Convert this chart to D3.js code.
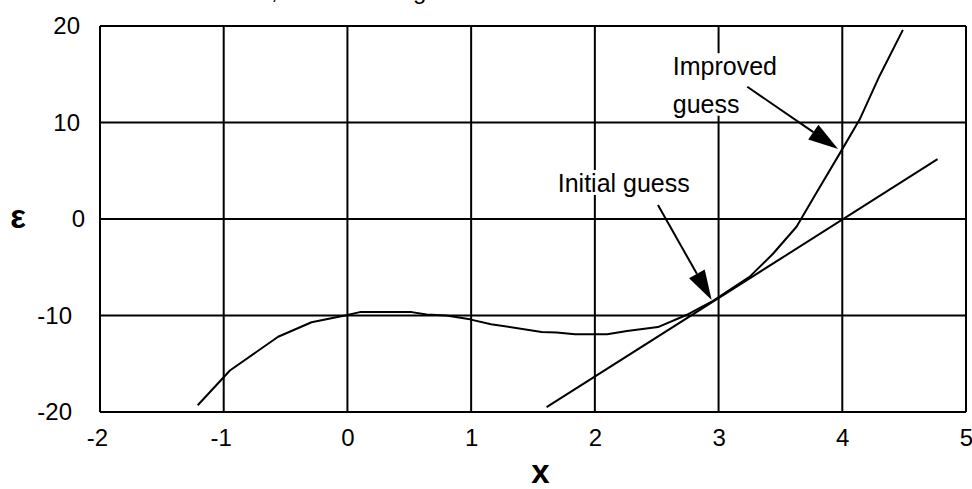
<!DOCTYPE html>
<html><head><meta charset="utf-8">
<script src="https://cdn.jsdelivr.net/npm/d3@7"></script>
<style>
html,body{margin:0;padding:0;background:#fff;}
svg{display:block;}
text{font-family:"Liberation Sans",Arial,sans-serif;}
</style></head>
<body>
<svg id="c" width="972" height="489"></svg>
<script>
// ---- data ----
const xTicks = [-2, -1, 0, 1, 2, 3, 4, 5];
const yTicks = [-20, -10, 0, 10, 20];
const curveX = [-1.21, -0.95, -0.56, -0.29, 0.0, 0.10, 0.52, 0.64, 0.80, 0.99, 1.16, 1.57, 1.69, 1.84, 2.10, 2.26, 2.51, 2.74, 2.94, 3.25, 3.44, 3.63, 3.79, 3.98, 4.14, 4.30, 4.49];
const curveY = [-19.3, -15.7, -12.2, -10.7, -9.95, -9.65, -9.65, -9.9, -10.0, -10.4, -10.9, -11.7, -11.75, -11.95, -11.95, -11.6, -11.2, -9.95, -8.6, -6.0, -3.6, -0.8, 2.7, 6.8, 10.3, 14.8, 19.6];
const tangentX = [1.61, 4.77];
const tangentY = [-19.5, 6.2];
const annotations = [
  {lines: ["Initial guess"], tx: 1.7, ty: 2.8, fromX: 2.51, fromY: 1.45, toX: 2.944, toY: -8.39},
  {lines: ["Improved", "guess"], tx: 2.63, ty: 14.9, fromX: 3.232, fromY: 13.7, toX: 3.966, toY: 7.25}
];
const xLabel = "x";
const yLabel = "\u03b5";

// ---- layout ----
const svg = d3.select("#c");
const m = {left: 100, top: 26, right: 6, bottom: 77};
const W = 972 - m.left - m.right, H = 489 - m.top - m.bottom;
const x = d3.scaleLinear().domain([-2, 5]).range([m.left, m.left + W]);
const y = d3.scaleLinear().domain([-20, 20]).range([m.top + H, m.top]);
const fmt = d => String(d);

// grid
const g = svg.append("g");
g.selectAll(".vg").data(xTicks).join("line")
  .attr("x1", d => x(d)).attr("x2", d => x(d))
  .attr("y1", y(20)).attr("y2", y(-20))
  .attr("stroke", "#000").attr("stroke-width", 2);
g.selectAll(".hg").data(yTicks).join("line")
  .attr("y1", d => y(d)).attr("y2", d => y(d))
  .attr("x1", x(-2)).attr("x2", x(5))
  .attr("stroke", "#000").attr("stroke-width", 2);

// axes labels via d3 axes (no domain/ticks lines)
const xAxis = svg.append("g").attr("transform", `translate(0,${y(-20)})`)
  .call(d3.axisBottom(x).tickValues(xTicks).tickSize(0).tickPadding(0).tickFormat(fmt));
xAxis.select(".domain").remove();
xAxis.selectAll("text").attr("font-size", 24).attr("fill", "#000")
  .attr("font-family", "Liberation Sans, Arial, sans-serif")
  .attr("dy", null).attr("y", 34)
  .attr("dx", d => d < 0 ? -3 : 0);

const yAxis = svg.append("g")
  .call(d3.axisLeft(y).tickValues(yTicks).tickSize(0).tickPadding(0).tickFormat(fmt));
yAxis.select(".domain").remove();
yAxis.selectAll("text").attr("font-size", 24).attr("fill", "#000")
  .attr("font-family", "Liberation Sans, Arial, sans-serif")
  .attr("text-anchor", "end")
  .attr("x", d => { const s = String(Math.abs(d)); return 90 - 5 * s.length - (d < 0 ? 8 : 0); })
  .attr("dy", "0.33em");

// axis titles
svg.append("text").attr("x", x(1.56)).attr("y", 483).attr("text-anchor", "middle")
  .attr("font-size", 33).attr("font-weight", "bold").text(xLabel);
svg.append("text").attr("x", 18).attr("y", 228).attr("text-anchor", "middle")
  .attr("font-size", 33).attr("font-weight", "bold").text(yLabel);

// curve and tangent
const line = d3.line().x(d => x(d[0])).y(d => y(d[1]));
svg.append("path").datum(curveX.map((v, i) => [v, curveY[i]]))
  .attr("d", line).attr("fill", "none").attr("stroke", "#000").attr("stroke-width", 2)
  .attr("stroke-linejoin", "round");
svg.append("path").datum(tangentX.map((v, i) => [v, tangentY[i]]))
  .attr("d", line).attr("fill", "none").attr("stroke", "#000").attr("stroke-width", 2);

// annotations
annotations.forEach(a => {
  const t = svg.append("text").attr("x", x(a.tx)).attr("y", y(a.ty)).attr("font-size", 25).attr("fill", "#000");
  a.lines.forEach((s, i) => t.append("tspan").attr("x", x(a.tx)).attr("dy", i ? 37.5 : 0).text(s));
  const bb = t.node().getBBox();
  svg.insert("rect", () => t.node()).attr("x", bb.x - 2).attr("y", bb.y + 1)
    .attr("width", bb.width + 4).attr("height", bb.height - 3).attr("fill", "#fff");
  const x1 = x(a.fromX), y1 = y(a.fromY), x2 = x(a.toX), y2 = y(a.toY);
  const dx = x2 - x1, dy = y2 - y1, L = Math.hypot(dx, dy), ux = dx / L, uy = dy / L;
  const hl = 30, hw = 9;
  const bx = x2 - ux * hl, by = y2 - uy * hl;
  svg.append("line").attr("x1", x1).attr("y1", y1).attr("x2", bx).attr("y2", by)
    .attr("stroke", "#000").attr("stroke-width", 2);
  svg.append("path").attr("d", `M${x2},${y2}L${bx - uy * hw},${by + ux * hw}L${bx + uy * hw},${by - ux * hw}Z`)
    .attr("fill", "#000");
});

// cropped body text from above the figure
svg.append("text").attr("x", 271).attr("y", -1).attr("font-family", "Liberation Serif, Times New Roman, serif")
  .attr("font-size", 24).text(",");
svg.append("text").attr("x", 413).attr("y", -1).attr("font-family", "Liberation Serif, Times New Roman, serif")
  .attr("font-size", 24).text("g");
</script>
</body></html>
